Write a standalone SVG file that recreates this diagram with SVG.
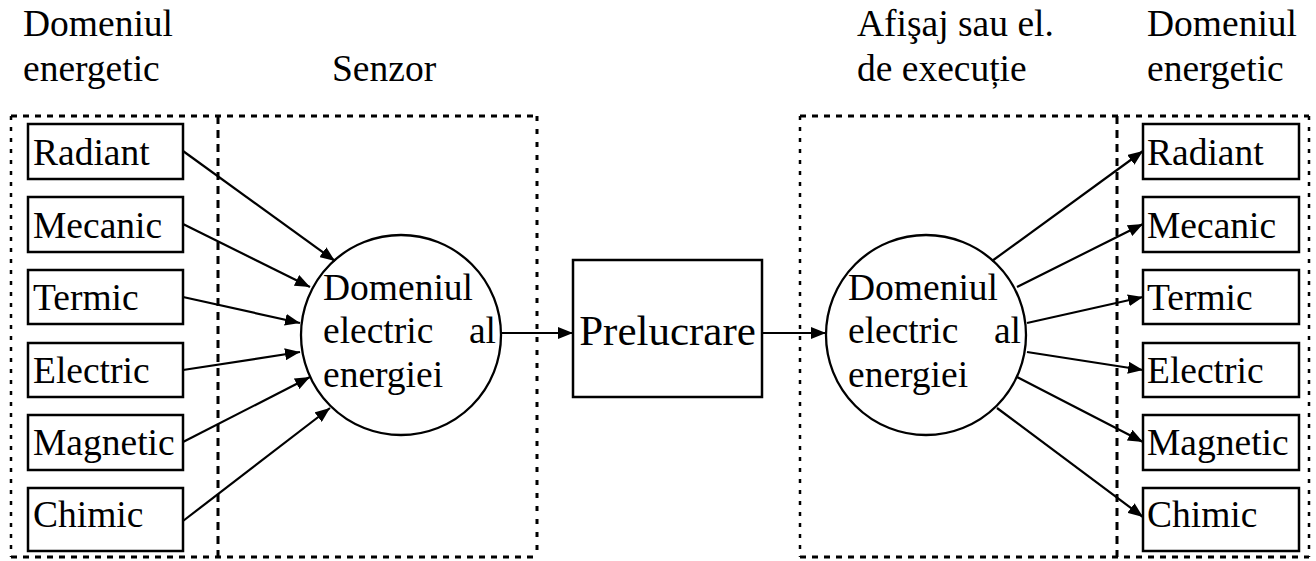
<svg xmlns="http://www.w3.org/2000/svg" width="1316" height="561" viewBox="0 0 1316 561">
<style>
  text { font-family: "Liberation Serif", "Times New Roman", serif; font-size: 37.5px; fill: #000; }
  .box { fill: #fff; stroke: #000; stroke-width: 2.5; }
  .circ { fill: #fff; stroke: #000; stroke-width: 2.3; }
  .conn { stroke: #000; stroke-width: 2.2; fill: none; marker-end: url(#arr); }
  .dh { stroke: #000; stroke-width: 3; stroke-dasharray: 6 6; fill: none; }
  .dv1 { stroke: #000; stroke-width: 2.5; stroke-dasharray: 4 7; fill: none; }
  .dv2 { stroke: #000; stroke-width: 3; stroke-dasharray: 8 6; fill: none; }
  .dv3 { stroke: #000; stroke-width: 3; stroke-dasharray: 5 8; fill: none; }
  .big { font-size: 43px; }
</style>
<defs>
  <marker id="arr" markerUnits="userSpaceOnUse" markerWidth="15" markerHeight="12" refX="15" refY="6" orient="auto">
    <path d="M0,0 L15,6 L0,12 Z" fill="#000"/>
  </marker>
</defs>

<g id="frames">
  <line class="dh" x1="11" y1="116" x2="537" y2="116"/>
  <line class="dh" x1="11" y1="557" x2="537" y2="557"/>
  <line class="dv1" x1="11" y1="116" x2="11" y2="557"/>
  <line class="dv2" x1="218" y1="116" x2="218" y2="557"/>
  <line class="dv3" x1="537" y1="116" x2="537" y2="557"/>
  <line class="dh" x1="800" y1="116" x2="1309" y2="116"/>
  <line class="dh" x1="800" y1="557" x2="1309" y2="557"/>
  <line class="dv1" x1="800" y1="116" x2="800" y2="557"/>
  <line class="dv2" x1="1117" y1="116" x2="1117" y2="557"/>
  <line class="dv1" x1="1309" y1="116" x2="1309" y2="557"/>
</g>

<g id="labels">
  <text x="23" y="36">Domeniul</text>
  <text x="23" y="81">energetic</text>
  <text x="332" y="81">Senzor</text>
  <text x="857" y="36">Afişaj sau el.</text>
  <text x="857" y="81">de execuție</text>
  <text x="1147" y="36">Domeniul</text>
  <text x="1147" y="81">energetic</text>
</g>

<g id="in-radiant"><rect class="box" x="28" y="124" width="155" height="55"/><text x="33" y="165">Radiant</text></g>
<g id="in-mecanic"><rect class="box" x="28" y="197" width="155" height="55"/><text x="33" y="238">Mecanic</text></g>
<g id="in-termic"><rect class="box" x="28" y="270" width="155" height="54"/><text x="33" y="310">Termic</text></g>
<g id="in-electric"><rect class="box" x="28" y="343" width="155" height="54"/><text x="33" y="383">Electric</text></g>
<g id="in-magnetic"><rect class="box" x="28" y="415" width="155" height="55"/><text x="33" y="455">Magnetic</text></g>
<g id="in-chimic"><rect class="box" x="28" y="488" width="155" height="63"/><text x="33" y="527">Chimic</text></g>

<g id="sensor-circle">
  <circle class="circ" cx="401" cy="335" r="100"/>
  <text x="323" y="300">Domeniul</text>
  <text x="323" y="343">electric</text>
  <text x="496" y="343" text-anchor="end">al</text>
  <text x="323" y="387">energiei</text>
</g>

<g id="prelucrare">
  <rect class="box" x="573" y="260" width="189" height="137"/>
  <text class="big" x="667.5" y="345" text-anchor="middle">Prelucrare</text>
</g>

<g id="actuator-circle">
  <circle class="circ" cx="926" cy="335" r="100"/>
  <text x="848" y="300">Domeniul</text>
  <text x="848" y="343">electric</text>
  <text x="1021" y="343" text-anchor="end">al</text>
  <text x="848" y="387">energiei</text>
</g>

<g id="out-radiant"><rect class="box" x="1143" y="124" width="156" height="55"/><text x="1147" y="165">Radiant</text></g>
<g id="out-mecanic"><rect class="box" x="1143" y="197" width="156" height="55"/><text x="1147" y="238">Mecanic</text></g>
<g id="out-termic"><rect class="box" x="1143" y="270" width="156" height="54"/><text x="1147" y="310">Termic</text></g>
<g id="out-electric"><rect class="box" x="1143" y="343" width="156" height="54"/><text x="1147" y="383">Electric</text></g>
<g id="out-magnetic"><rect class="box" x="1143" y="415" width="156" height="55"/><text x="1147" y="455">Magnetic</text></g>
<g id="out-chimic"><rect class="box" x="1143" y="488" width="156" height="63"/><text x="1147" y="527">Chimic</text></g>

<g id="connectors">
  <line class="conn" x1="183" y1="151" x2="335" y2="261"/>
  <line class="conn" x1="183" y1="224" x2="310" y2="287"/>
  <line class="conn" x1="183" y1="297" x2="300" y2="323"/>
  <line class="conn" x1="183" y1="370" x2="300" y2="352"/>
  <line class="conn" x1="183" y1="442" x2="310" y2="377"/>
  <line class="conn" x1="183" y1="521" x2="330" y2="408"/>
  <line class="conn" x1="501" y1="333" x2="573" y2="333"/>
  <line class="conn" x1="762" y1="333" x2="826" y2="333"/>
  <line class="conn" x1="992" y1="261" x2="1143" y2="151"/>
  <line class="conn" x1="1017" y1="287" x2="1143" y2="224"/>
  <line class="conn" x1="1027" y1="323" x2="1143" y2="297"/>
  <line class="conn" x1="1027" y1="352" x2="1143" y2="370"/>
  <line class="conn" x1="1017" y1="377" x2="1143" y2="442"/>
  <line class="conn" x1="997" y1="408" x2="1143" y2="517"/>
</g>
</svg>
